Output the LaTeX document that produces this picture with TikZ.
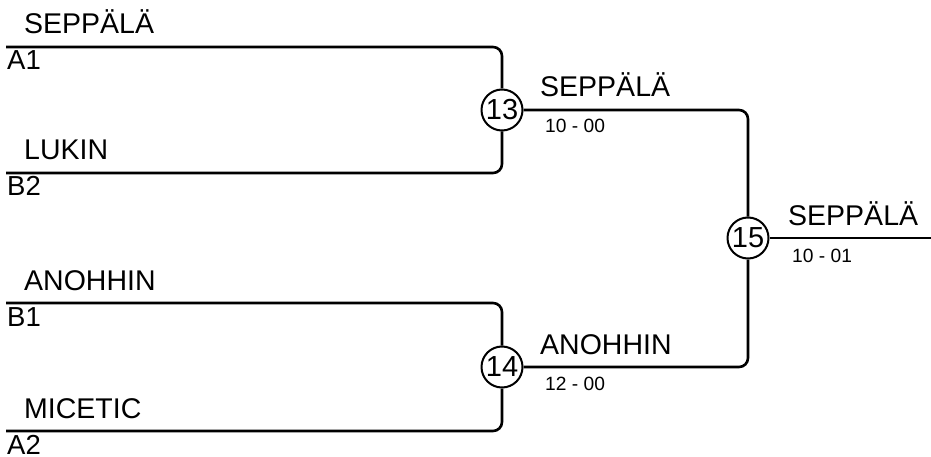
\documentclass[tikz,border=0pt]{standalone}
\usepackage{fontspec}
\setmainfont{Liberation Sans}
\usepackage{tikz}
\usetikzlibrary{positioning}

\begin{document}
\begin{tikzpicture}[
    x=1pt, y=-1pt,
    bracket line/.style={
        line width=2.6pt,
        rounded corners=9pt
    },
    match circle/.style={
        circle,
        draw,
        line width=2pt,
        minimum size=41pt,
        inner sep=0pt,
        font=\fontsize{29}{29}\selectfont
    },
    player name/.style={anchor=base west, inner sep=0pt, font=\fontsize{28.5}{32}\selectfont},
    seed label/.style={anchor=base west, inner sep=0pt, font=\fontsize{27.5}{30}\selectfont},
    score label/.style={anchor=base west, inner sep=0pt, font=\fontsize{19.2}{22}\selectfont}
]
\useasboundingbox (0,0) rectangle (931,457);

% Entry lines of the first round
\coordinate (a1) at (6,47);
\coordinate (b2) at (6,173);
\coordinate (b1) at (6,303);
\coordinate (a2) at (6,431);
\coordinate (out) at (931,238);

% Match circles
\node[match circle] (c13) at (502,110) {13};
\node[match circle] (c14) at (502,367) {14};
\node[match circle] (c15) at (748,238) {15};

% === BRACKET LINES ===
\draw[bracket line] (a1) -| (c13);
\draw[bracket line] (b2) -| (c13);
\draw[bracket line] (b1) -| (c14);
\draw[bracket line] (a2) -| (c14);
\draw[bracket line] (c13) -| (c15);
\draw[bracket line] (c14) -| (c15);
\draw[bracket line] (c15) -- (out);

% === FIRST ROUND ===
\node[player name] (n1) at ([xshift=18pt,yshift=13pt]a1) {SEPPÄLÄ};
\node[seed label] (s1) at ([xshift=1pt,yshift=-23pt]a1) {A1};
\node[player name] (n2) at ([xshift=18pt,yshift=13pt]b2) {LUKIN};
\node[seed label] (s2) at ([xshift=1pt,yshift=-23pt]b2) {B2};
\node[player name] (n3) at ([xshift=18pt,yshift=13pt]b1) {ANOHHIN};
\node[seed label] (s3) at ([xshift=1pt,yshift=-23pt]b1) {B1};
\node[player name] (n4) at ([xshift=18pt,yshift=13pt]a2) {MICETIC};
\node[seed label] (s4) at ([xshift=1pt,yshift=-23pt]a2) {A2};

% === WINNERS ===
\node[player name] (w13) at ([xshift=38pt,yshift=13pt]c13) {SEPPÄLÄ};
\node[score label] (r13) at ([xshift=43pt,yshift=-23pt]c13) {10 - 00};
\node[player name] (w14) at ([xshift=38pt,yshift=13pt]c14) {ANOHHIN};
\node[score label] (r14) at ([xshift=43pt,yshift=-23pt]c14) {12 - 00};
\node[player name] (w15) at ([xshift=40pt,yshift=13pt]c15) {SEPPÄLÄ};
\node[score label] (r15) at ([xshift=44pt,yshift=-24pt]c15) {10 - 01};

\end{tikzpicture}
\end{document}
